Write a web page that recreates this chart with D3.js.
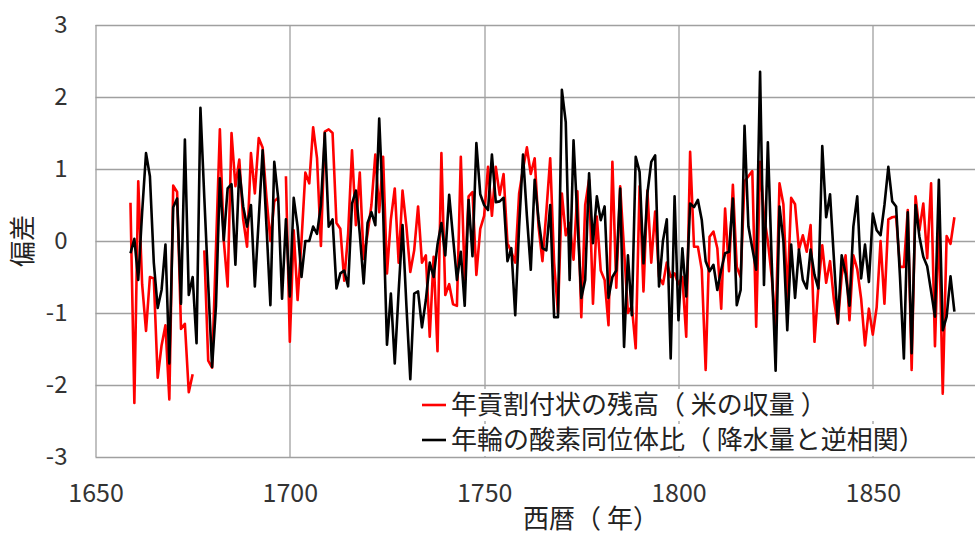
<!DOCTYPE html>
<meta charset="utf-8">
<script src="https://d3js.org/d3.v7.min.js"></script>
<style>
  body { margin: 0; background: #fff; }
  text { font-family: "Noto Sans CJK JP", "Noto Sans", sans-serif; }
</style>
<div id="vis"></div>
<script>

// first year of both series, one value per year
var startYear = 1659;

// 年貢割付状の残高 (null = no record)
var riceYield = [
  0.53, -2.25, 0.83, -0.6, -1.25, -0.5, -0.52, -1.9, -1.45, -1.17,
  -2.2, 0.77, 0.68, -1.22, -1.15, -2.1, -1.85, null, null, -0.13,
  -1.66, -1.76, -0.1, 1.55, 0.01, -0.63, 1.5, 0.76, 1.13, 0.3,
  -0.08, 1.22, 0.66, 1.43, 1.3, 0.6, 0.0, 0.55, 0.6, null,
  0.9, -1.4, 0.15, -0.82, 0.0, 0.95, 0.8, 1.58, 1.15, -0.07,
  1.52, 1.55, 1.5, 0.25, 0.17, -0.55, 0.1, 1.26, 0.22, 0.95,
  -0.25, 0.1, 0.5, 1.2, 0.4, 1.17, -0.45, 0.3, 0.73, -0.3,
  0.7, 0.2, -0.43, -0.13, 0.48, -0.3, -0.2, -1.33, -0.22, -1.53,
  1.22, -0.75, -0.6, -0.88, -0.9, 1.17, -0.54, 0.62, 0.68, -0.47,
  0.17, 0.35, 1.03, 0.35, 1.03, 0.64, 0.93, -0.03, -0.15, -0.3,
  0.66, 1.0, 1.3, 0.93, 1.15, 0.2, -0.28, 0.4, 1.15, -0.3,
  -1.0, 0.66, 0.08, 0.25, -0.26, 0.69, -1.06, 0.5, 0.85, -0.87,
  0.34, -0.41, -0.54, -1.17, 1.1, -0.65, 0.76, -0.12, -1.0, -0.9,
  -1.49, 0.76, -0.7, 0.7, -0.3, 0.41, -0.5, -0.6, -0.3, -0.5,
  -0.45, -0.6, -0.5, -1.33, 1.24, -0.08, -0.08, -0.4, -1.79, 0.06,
  0.13, -0.1, -0.94, 0.45, -0.42, 0.78, -0.36, -0.5, 0.83, 0.9,
  0.97, -1.19, 1.1, 0.35, 0.0, -0.5, -1.2, 0.8, 0.51, -0.8,
  0.6, 0.51, -0.12, 0.08, -0.15, 0.22, -1.4, -0.63, -0.06, -0.58,
  -0.28, -0.82, -1.15, -0.48, -0.2, -1.1, -0.2, -0.39, -0.8, -1.45,
  -0.94, -1.3, -0.92, 0.0, -0.87, 0.3, 0.33, 0.34, -0.36, -0.36,
  0.43, -1.79, 0.62, 0.15, 0.52, -0.24, 0.8, -1.46, 0.3, -2.12,
  0.07, -0.04, 0.33
];

// 年輪の酸素同位体比
var oxygenIsotope = [
  -0.17, 0.03, -0.54, 0.4, 1.22, 0.9, -0.3, -0.93, -0.68, -0.05,
  -1.7, 0.47, 0.59, -0.87, 1.41, -0.75, -0.5, -1.42, 1.85, 0.6,
  -0.6, -1.75, -0.9, 0.87, 0.01, 0.73, 0.79, -0.33, 0.99, 0.48,
  0.2, 0.5, -0.63, 0.3, 1.26, 0.2, -0.89, 1.1, 0.6, -0.8,
  0.3, -0.77, 0.6, 0.2, -0.5, 0.0, 0.0, 0.2, 0.1, 0.5,
  1.5, 0.2, 0.3, -0.66, -0.45, -0.41, -0.63, 0.52, 0.7, 0.1,
  -0.59, 0.25, 0.4, 0.22, 1.7, 0.43, -1.44, -0.73, -1.7, -0.7,
  0.22, -0.9, -1.92, -0.73, -0.7, -1.2, -0.82, -0.3, -0.5, -0.05,
  0.25, -0.2, 0.64, 0.05, -0.54, -0.15, -0.9, 0.57, -0.21, 1.36,
  0.65, 0.5, 0.43, 1.2, 0.54, 0.55, 0.6, -0.28, -0.1, -1.03,
  0.2, 1.2, 0.35, -0.4, 0.85, 0.3, -0.1, -0.13, 0.5, -1.06,
  -1.06, 2.1, 1.65, -0.54, 1.4, 0.3, -0.79, -0.54, 0.94, -0.03,
  0.62, 0.29, 0.48, -0.79, -0.5, -0.41, 0.73, -1.47, -0.2, -1.03,
  1.17, 0.96, -0.31, 0.66, 1.1, 1.19, -0.63, 0.0, 0.3, -1.63,
  0.62, -1.1, -0.1, -0.77, 0.52, 0.47, 0.57, 0.29, -0.28, -0.42,
  -0.33, -0.68, -0.4, -0.17, -0.15, 0.59, -0.89, -0.68, 1.6, 0.2,
  -0.1, -0.4, 2.35, -0.61, 1.37, -0.3, -1.8, 0.48, 0.0, -1.24,
  -0.05, -0.79, -0.12, -0.54, -0.66, -0.12, -0.47, -0.66, 1.32, 0.33,
  0.65, -0.25, -1.14, -0.2, -0.45, -0.9, 0.2, 0.62, -0.52, -0.05,
  -0.57, 0.38, 0.15, 0.08, 0.5, 1.03, 0.55, 0.48, -0.5, -1.63,
  0.4, -1.56, 0.5, 0.06, -0.22, -0.35, -0.7, -1.05, 0.85, -1.24,
  -1.05, -0.49, -0.98
];

var yTicks = [3, 2, 1, 0, -1, -2, -3];
var xTicks = [1650, 1700, 1750, 1800, 1850];
var seriesNames = ["年貢割付状の残高（ 米の収量 ）", "年輪の酸素同位体比（ 降水量と逆相関）"];
var seriesColors = ["#ff0000", "#000000"];

var W = 977, H = 539;
var margin = {top: 25, right: 2, bottom: 82, left: 95.5};
var width = W - margin.left - margin.right,
    height = H - margin.top - margin.bottom;

var svg = d3.select("#vis")
  .append("svg")
    .attr("width", W)
    .attr("height", H)
  .append("g")
    .attr("transform", "translate(" + margin.left + "," + margin.top + ")");

var x = d3.scaleLinear()
  .domain([1650, 1876.3])
  .range([0, width]);

var y = d3.scaleLinear()
  .domain([-3, 3])
  .range([height, 0]);

// gridlines
svg.append("g")
  .selectAll("line.h")
  .data(yTicks)
  .enter().append("line")
    .attr("x1", 0).attr("x2", width)
    .attr("y1", function(d) { return Math.round(y(d)) + 0.5; })
    .attr("y2", function(d) { return Math.round(y(d)) + 0.5; })
    .style("stroke", "#a0a0a0")
    .style("stroke-width", 1.3);

svg.append("g")
  .selectAll("line.v")
  .data(xTicks)
  .enter().append("line")
    .attr("x1", function(d) { return Math.round(x(d)) + 0.5; })
    .attr("x2", function(d) { return Math.round(x(d)) + 0.5; })
    .attr("y1", 0).attr("y2", height)
    .style("stroke", "#a0a0a0")
    .style("stroke-width", 1.3);

// axes (labels only)
var yAxis = svg.append("g")
  .call(d3.axisLeft(y).tickValues(yTicks).tickSize(0).tickPadding(28)
    .tickFormat(function(d) { return d < 0 ? "-" + Math.abs(d) : d; }));
yAxis.select(".domain").remove();
yAxis.selectAll("text")
  .style("font-size", "24px")
  .style("fill", "#333")
  .style("font-family", '"Noto Sans CJK JP", sans-serif');

var xAxis = svg.append("g")
  .attr("transform", "translate(0," + height + ")")
  .call(d3.axisBottom(x).tickValues(xTicks).tickSize(0).tickPadding(27)
    .tickFormat(d3.format("d")));
xAxis.select(".domain").remove();
xAxis.selectAll("text")
  .style("font-size", "25px")
  .style("fill", "#333")
  .style("font-family", '"Noto Sans CJK JP", sans-serif');

// axis titles
svg.append("text")
  .attr("transform", "rotate(-90)")
  .attr("x", -height / 2)
  .attr("y", -64)
  .style("text-anchor", "middle")
  .style("font-size", "26px")
  .style("fill", "#222")
  .text("偏差");

svg.append("text")
  .attr("x", x(1777.5))
  .attr("y", height + 71)
  .style("text-anchor", "middle")
  .style("font-size", "26px")
  .style("fill", "#222")
  .text("西暦（ 年）");

// lines
var years = d3.range(startYear, startYear + oxygenIsotope.length);
var line = d3.line()
  .defined(function(d) { return d != null; })
  .x(function(d, i) { return x(years[i]); })
  .y(function(d) { return y(d); });

[riceYield, oxygenIsotope].forEach(function(series, k) {
  svg.append("path")
    .datum(series)
    .attr("d", line)
    .style("fill", "none")
    .style("stroke", seriesColors[k])
    .style("stroke-width", 2.6)
    .style("stroke-linejoin", "round");
});

// legend
var legend = svg.append("g")
  .attr("transform", "translate(" + (422 - margin.left) + "," + (405 - margin.top) + ")");

seriesNames.forEach(function(name, k) {
  var g = legend.append("g").attr("transform", "translate(0," + (k * 35) + ")");
  g.append("rect").attr("x", -4).attr("y", -16).attr("width", 505).attr("height", 32)
    .style("fill", "#fff");
  g.append("line")
    .attr("x1", 0).attr("x2", 24)
    .attr("y1", 0).attr("y2", 0)
    .style("stroke", seriesColors[k])
    .style("stroke-width", 2.6);
  g.append("text")
    .attr("x", 29)
    .attr("y", 9)
    .style("font-size", "26px")
    .style("fill", "#222")
    .text(name);
});

</script>
